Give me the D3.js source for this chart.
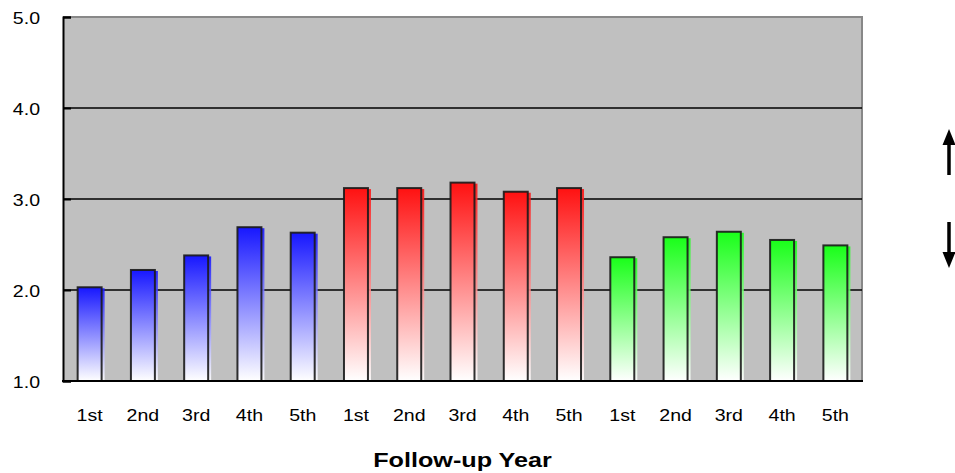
<!DOCTYPE html>
<html>
<head>
<meta charset="utf-8">
<script src="https://cdn.jsdelivr.net/npm/d3@7"></script>
<style>
  html, body { margin: 0; padding: 0; background: #fff; }
  svg { display: block; }
  text { font-family: "Liberation Sans", Arial, sans-serif; fill: #000; }
</style>
</head>
<body>
<svg id="chart" width="955" height="473"></svg>
<script>
// Follow-up year labels, repeated for each of the three groups
const yearLabels = ["1st", "2nd", "3rd", "4th", "5th"];
const groupNames = ["blue", "red", "green"];
const blueValues = [2.03, 2.22, 2.38, 2.69, 2.63];
const redValues = [3.12, 3.12, 3.18, 3.08, 3.12];
const greenValues = [2.36, 2.58, 2.64, 2.55, 2.49];
const yTicks = [1.0, 2.0, 3.0, 4.0, 5.0];
const gridValues = [2.0, 3.0, 4.0];
const axisTitle = "Follow-up Year";

const groupColors = { blue: "#1717ff", red: "#ff1111", green: "#19ff19" };
const groupValues = { blue: blueValues, red: redValues, green: greenValues };

const bars = [];
groupNames.forEach(g => {
  groupValues[g].forEach((v, i) => {
    bars.push({ key: g + "-" + i, group: g, label: yearLabels[i], value: v });
  });
});

const svg = d3.select("#chart");
const plot = { left: 63, right: 862, top: 17, bottom: 381 };
const stretch = 1.15; // text is drawn slightly widened

const x = d3.scaleBand()
  .domain(bars.map(d => d.key))
  .range([plot.left, plot.right])
  .paddingInner(0.55)
  .paddingOuter(0.275);

const y = d3.scaleLinear().domain([1, 5]).range([plot.bottom, plot.top]);

// gradients: saturated at the top fading to white at the base
const defs = svg.append("defs");
groupNames.forEach(g => {
  const grad = defs.append("linearGradient")
    .attr("id", "grad-" + g)
    .attr("x1", 0).attr("y1", 0).attr("x2", 0).attr("y2", 1);
  grad.append("stop").attr("offset", "0%").attr("stop-color", groupColors[g]);
  grad.append("stop").attr("offset", "100%").attr("stop-color", "#ffffff");
});

// plot background
svg.append("rect")
  .attr("x", plot.left).attr("y", plot.top)
  .attr("width", plot.right - plot.left).attr("height", plot.bottom - plot.top)
  .attr("fill", "#c0c0c0");

// top and right frame
svg.append("path")
  .attr("d", `M${plot.left},${plot.top}H${plot.right}V${plot.bottom}`)
  .attr("fill", "none").attr("stroke", "#888").attr("stroke-width", 2);

// horizontal gridlines
svg.append("g").selectAll("line").data(gridValues).join("line")
  .attr("x1", plot.left).attr("x2", plot.right)
  .attr("y1", d => y(d)).attr("y2", d => y(d))
  .attr("stroke", "#000").attr("stroke-width", 1.5);

// bars: offset fill shadow, then the outlined bar
const barG = svg.append("g");
barG.selectAll("rect.shadow").data(bars).join("rect")
  .attr("class", "shadow")
  .attr("x", d => x(d.key) + 3)
  .attr("y", d => y(d.value) + 1)
  .attr("width", x.bandwidth())
  .attr("height", d => y(1) - y(d.value) - 1)
  .attr("fill", d => `url(#grad-${d.group})`)
  .attr("opacity", 0.9);

barG.selectAll("rect.bar").data(bars).join("rect")
  .attr("class", "bar")
  .attr("x", d => x(d.key))
  .attr("y", d => y(d.value))
  .attr("width", x.bandwidth())
  .attr("height", d => y(1) - y(d.value))
  .attr("fill", d => `url(#grad-${d.group})`)
  .attr("stroke", "#1a1a1a").attr("stroke-opacity", 0.9).attr("stroke-width", 2);

// y axis: ticks point into the plot
const yAxis = d3.axisLeft(y).tickValues(yTicks).tickSize(-8).tickFormat(d3.format(".1f"));
const yAxisG = svg.append("g").attr("transform", `translate(${plot.left},0)`).call(yAxis);
yAxisG.select(".domain").attr("stroke", "#000").attr("stroke-width", 2);
yAxisG.selectAll(".tick line").attr("stroke", "#000").attr("stroke-width", 2);
yAxisG.selectAll(".tick text").remove();
yAxisG.selectAll(".tick").append("text")
  .attr("text-anchor", "end")
  .attr("transform", `translate(-23,6.5) scale(${stretch},1)`)
  .attr("font-size", 17)
  .text(d => d3.format(".1f")(d));

// x axis line and labels
const xAxis = d3.axisBottom(x).tickSize(0).tickFormat(k => bars.find(b => b.key === k).label);
const xAxisG = svg.append("g").attr("transform", `translate(0,${plot.bottom})`).call(xAxis);
xAxisG.select(".domain").attr("stroke", "#000").attr("stroke-width", 2)
  .attr("d", `M${plot.left - 1},0H${plot.right + 1}`);
xAxisG.selectAll(".tick text").remove();
xAxisG.selectAll(".tick").append("text")
  .attr("text-anchor", "middle")
  .attr("transform", `translate(0,40) scale(${stretch},1)`)
  .attr("font-size", 17)
  .text(k => bars.find(b => b.key === k).label);

// axis title
svg.append("text")
  .attr("text-anchor", "middle")
  .attr("transform", `translate(${(plot.left + plot.right) / 2},467) scale(1.2,1)`)
  .attr("font-size", 21).attr("font-weight", "bold")
  .text(axisTitle);

// direction arrows on the right
const arrowX = 949;
function arrow(yTail, yTip) {
  const dir = yTip < yTail ? -1 : 1;
  const headLen = 16, headHalf = 6.5;
  svg.append("line")
    .attr("x1", arrowX).attr("x2", arrowX)
    .attr("y1", yTail).attr("y2", yTip - dir * headLen)
    .attr("stroke", "#000").attr("stroke-width", 3.5);
  svg.append("path")
    .attr("d", `M${arrowX},${yTip}L${arrowX - headHalf},${yTip - dir * headLen}L${arrowX + headHalf},${yTip - dir * headLen}Z`)
    .attr("fill", "#000");
}
arrow(175, 129);
arrow(222, 268);
</script>
</body>
</html>
